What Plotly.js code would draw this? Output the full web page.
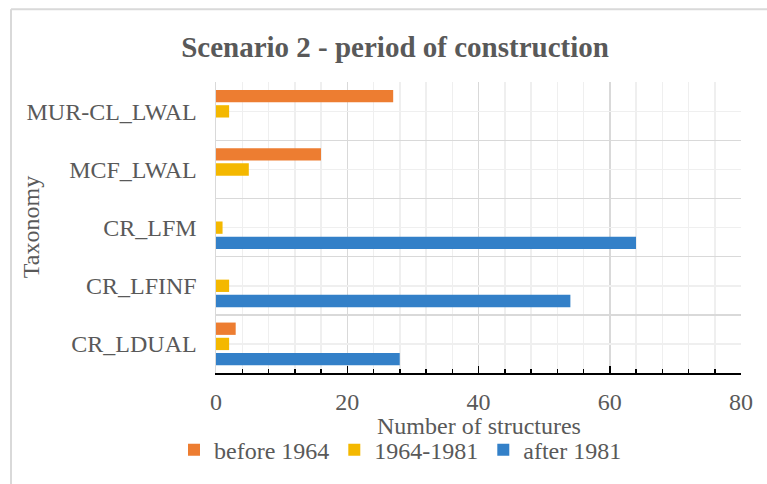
<!DOCTYPE html>
<html>
<head>
<meta charset="utf-8">
<script src="https://cdn.plot.ly/plotly-3.0.1.min.js"></script>
<style>html,body{margin:0;padding:0;background:#fff;}#chart{width:767px;height:484px;}</style>
</head>
<body>
<div id="chart"></div>
<script>
const categories = ["CR_LDUAL", "CR_LFINF", "CR_LFM", "MCF_LWAL", "MUR-CL_LWAL"];
const seriesNames = ["before 1964", "1964-1981", "after 1981"];
const before1964 = [3, 0, 0, 16, 27];
const from1964to1981 = [2, 2, 1, 5, 2];
const after1981 = [28, 54, 64, 0, 0];
const xTicks = [0, 20, 40, 60, 80];

const positions = categories.map((c, i) => i);
const boundaries = categories.map((c, i) => i - 0.5).concat([categories.length - 0.5]);
const fontFam = '"Liberation Serif", "Times New Roman", serif';
const grey = '#595959';

function bar(name, vals, color) {
  return {type: 'bar', orientation: 'h', name: name, x: vals, y: positions,
    marker: {color: color}, hoverinfo: 'x+name'};
}
// plotly stacks horizontal groups bottom-up; add last legend entry first
const data = [
  bar(seriesNames[2], after1981, '#3380C8'),
  bar(seriesNames[1], from1964to1981, '#F4B800'),
  bar(seriesNames[0], before1964, '#ED7D31')
];

const layout = {
  width: 767, height: 484,
  margin: {l: 216, r: 26, t: 82, b: 106},
  paper_bgcolor: '#ffffff', plot_bgcolor: '#ffffff',
  font: {family: fontFam, size: 24, color: grey},
  barmode: 'group', bargap: 0.215, bargroupgap: 0.19,
  title: {text: '<b>Scenario 2 - period of construction</b>', font: {family: fontFam, size: 29, color: grey},
    xref: 'container', yref: 'container', x: 0.515, xanchor: 'center', y: 0.903, yanchor: 'middle'},
  xaxis: {
    range: [0, 80], tickvals: xTicks, ticks: 'inside', ticklen: 7, tickwidth: 1.5, tickcolor: '#000',
    showline: true, linecolor: '#000', linewidth: 2,
    showgrid: true, gridcolor: '#d9d9d9', gridwidth: 1.5, zeroline: false,
    minor: {dtick: 4, ticks: 'inside', ticklen: 4, tickwidth: 1.5, tickcolor: '#000', showgrid: true, gridcolor: '#efefef', gridwidth: 1.5},
    ticklabelstandoff: 6,
    tickfont: {family: fontFam, size: 24, color: grey},
    fixedrange: true
  },
  yaxis: {
    range: [-0.5, categories.length - 0.495], tickmode: 'array', tickvals: positions, ticktext: categories,
    ticks: '', showgrid: true, gridcolor: '#efefef', gridwidth: 1.5, zeroline: false,
    showline: true, linecolor: '#d9d9d9', linewidth: 1.5,
    minor: {tickmode: 'array', tickvals: boundaries, ticks: '', showgrid: true, gridcolor: '#d9d9d9', gridwidth: 1.5},
    ticklabelstandoff: 13,
    tickfont: {family: fontFam, size: 24, color: grey},
    fixedrange: true
  },
  showlegend: true,
  legend: {orientation: 'h', traceorder: 'reversed', x: -0.08, xanchor: 'left', y: -0.265, yanchor: 'middle',
    font: {family: fontFam, size: 24, color: grey}, itemwidth: 30, bgcolor: 'rgba(0,0,0,0)'},
  annotations: [
    {text: 'Taxonomy', xref: 'paper', yref: 'paper', x: -0.353, y: 0.5, textangle: -90,
      showarrow: false, xanchor: 'center', yanchor: 'middle', font: {family: fontFam, size: 24, color: grey}},
    {text: 'Number of structures', xref: 'paper', yref: 'paper', x: 0.5, y: -0.182, borderpad: 0,
      showarrow: false, xanchor: 'center', yanchor: 'middle', font: {family: fontFam, size: 24, color: grey}}
  ],
  shapes: [
    {type: 'line', xref: 'paper', yref: 'paper', x0: -0.3905, x1: -0.3905, y0: -0.5, y1: 1.25, line: {color: '#d9d9d9', width: 2}},
    {type: 'line', xref: 'paper', yref: 'paper', x0: -0.3905, x1: 1.2, y0: 1.25, y1: 1.25, line: {color: '#d9d9d9', width: 2}}
  ]
};
Plotly.newPlot('chart', data, layout, {displayModeBar: false, staticPlot: true});
</script>
</body>
</html>
